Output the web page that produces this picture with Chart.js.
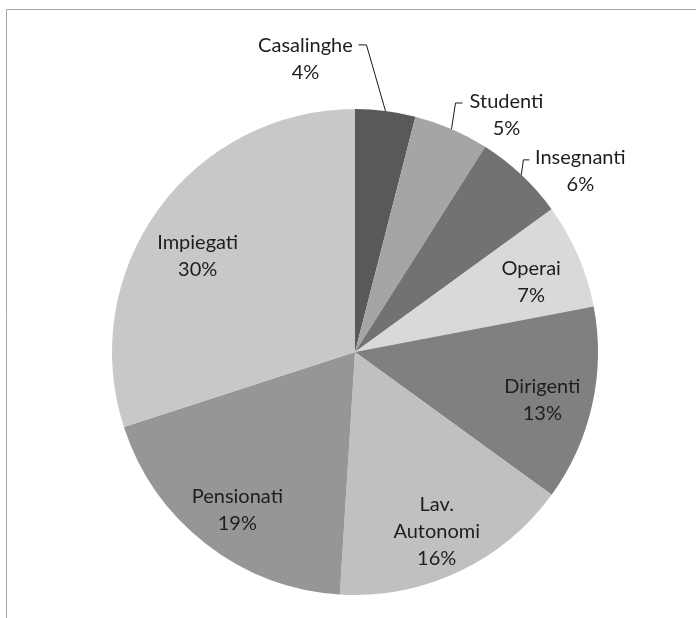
<!DOCTYPE html>
<html lang="it">
  <head>
    <meta charset="UTF-8" />
    <title>Professioni</title>
    <script src="https://cdn.jsdelivr.net/npm/chart.js"></script>
    <style>
      body { margin: 0; background: #fff; }
      .chart-card { position: relative; width: 696px; height: 618px; }
    </style>
  </head>
  <body>
    <div class="chart-card">
      <canvas id="pieChart"></canvas>
    </div>

    <script>
      // data (percent)
      const categories = ['Casalinghe', 'Studenti', 'Insegnanti', 'Operai', 'Dirigenti', 'Lav. Autonomi', 'Pensionati', 'Impiegati'];
      const shares = [4, 5, 6, 7, 13, 16, 19, 30];
      const sliceColors = ['#595959', '#a5a5a5', '#727272', '#d9d9d9', '#808080', '#c0c0c0', '#969696', '#c8c8c8'];

      // labels pulled out of the small slices (offsets from the arc edge point)
      const callouts = {
        0: { label: [-80, -52], elbow: [-19, -66], end: [-27, -66] },
        1: { label: [55, -14], elbow: [4, -26], end: [11, -26] },
        2: { label: [59, -4], elbow: [2, -15], end: [8, -15] }
      };
      // small manual nudges of the inside labels, like the original
      const nudges = { 7: [-2, 17] };

      const FONT = '20px Lato, "Noto Sans", sans-serif';
      const LINE_H = 27;

      // frame of the original chart area
      const framePlugin = {
        id: 'frame',
        beforeDraw(chart) {
          const ctx = chart.ctx;
          ctx.save();
          ctx.strokeStyle = '#a6a6a6';
          ctx.lineWidth = 1;
          ctx.beginPath();
          ctx.moveTo(6.5, chart.height);
          ctx.lineTo(6.5, 9.5);
          ctx.lineTo(chart.width, 9.5);
          ctx.stroke();
          ctx.restore();
        }
      };

      const labelPlugin = {
        id: 'sliceLabels',
        afterDatasetsDraw(chart) {
          const ctx = chart.ctx;
          const meta = chart.getDatasetMeta(0);
          const data = chart.data.datasets[0].data;
          const total = data.reduce((a, b) => a + b, 0);
          ctx.save();
          ctx.font = FONT;
          ctx.fillStyle = '#1e1e1e';
          ctx.textAlign = 'center';
          ctx.textBaseline = 'middle';
          meta.data.forEach((arc, i) => {
            const mid = (arc.startAngle + arc.endAngle) / 2;
            const lines = chart.data.labels[i].split(' ');
            lines.push(Math.round(data[i] / total * 100) + '%');
            let cx, cy;
            const c = callouts[i];
            if (c) {
              const ex = arc.x + Math.cos(mid) * arc.outerRadius;
              const ey = arc.y + Math.sin(mid) * arc.outerRadius;
              cx = ex + c.label[0];
              cy = ey + c.label[1];
              ctx.strokeStyle = '#1a1a1a';
              ctx.lineWidth = 1;
              ctx.beginPath();
              ctx.moveTo(ex, ey);
              ctx.lineTo(ex + c.elbow[0], ey + c.elbow[1]);
              ctx.lineTo(ex + c.end[0], ey + c.end[1]);
              ctx.stroke();
            } else {
              const r = arc.outerRadius * 0.79;
              const n = nudges[i] || [0, 6];
              cx = arc.x + Math.cos(mid) * r + n[0];
              cy = arc.y + Math.sin(mid) * r + n[1];
            }
            const top = cy - (lines.length - 1) * LINE_H / 2;
            lines.forEach((t, k) => ctx.fillText(t, cx, top + k * LINE_H));
          });
          ctx.restore();
        }
      };

      const pieChartData = {
        labels: categories,
        datasets: [{
          data: shares,
          backgroundColor: sliceColors,
          borderWidth: 0
        }]
      };

      const pieChartOptions = {
        responsive: true,
        maintainAspectRatio: false,
        animation: false,
        layout: { padding: { left: 112, right: 98, top: 109, bottom: 23 } },
        plugins: {
          legend: { display: false },
          tooltip: { enabled: false }
        }
      };

      new Chart(document.getElementById('pieChart'), {
        type: 'pie',
        data: pieChartData,
        options: pieChartOptions,
        plugins: [framePlugin, labelPlugin]
      });
    </script>
  </body>
</html>
